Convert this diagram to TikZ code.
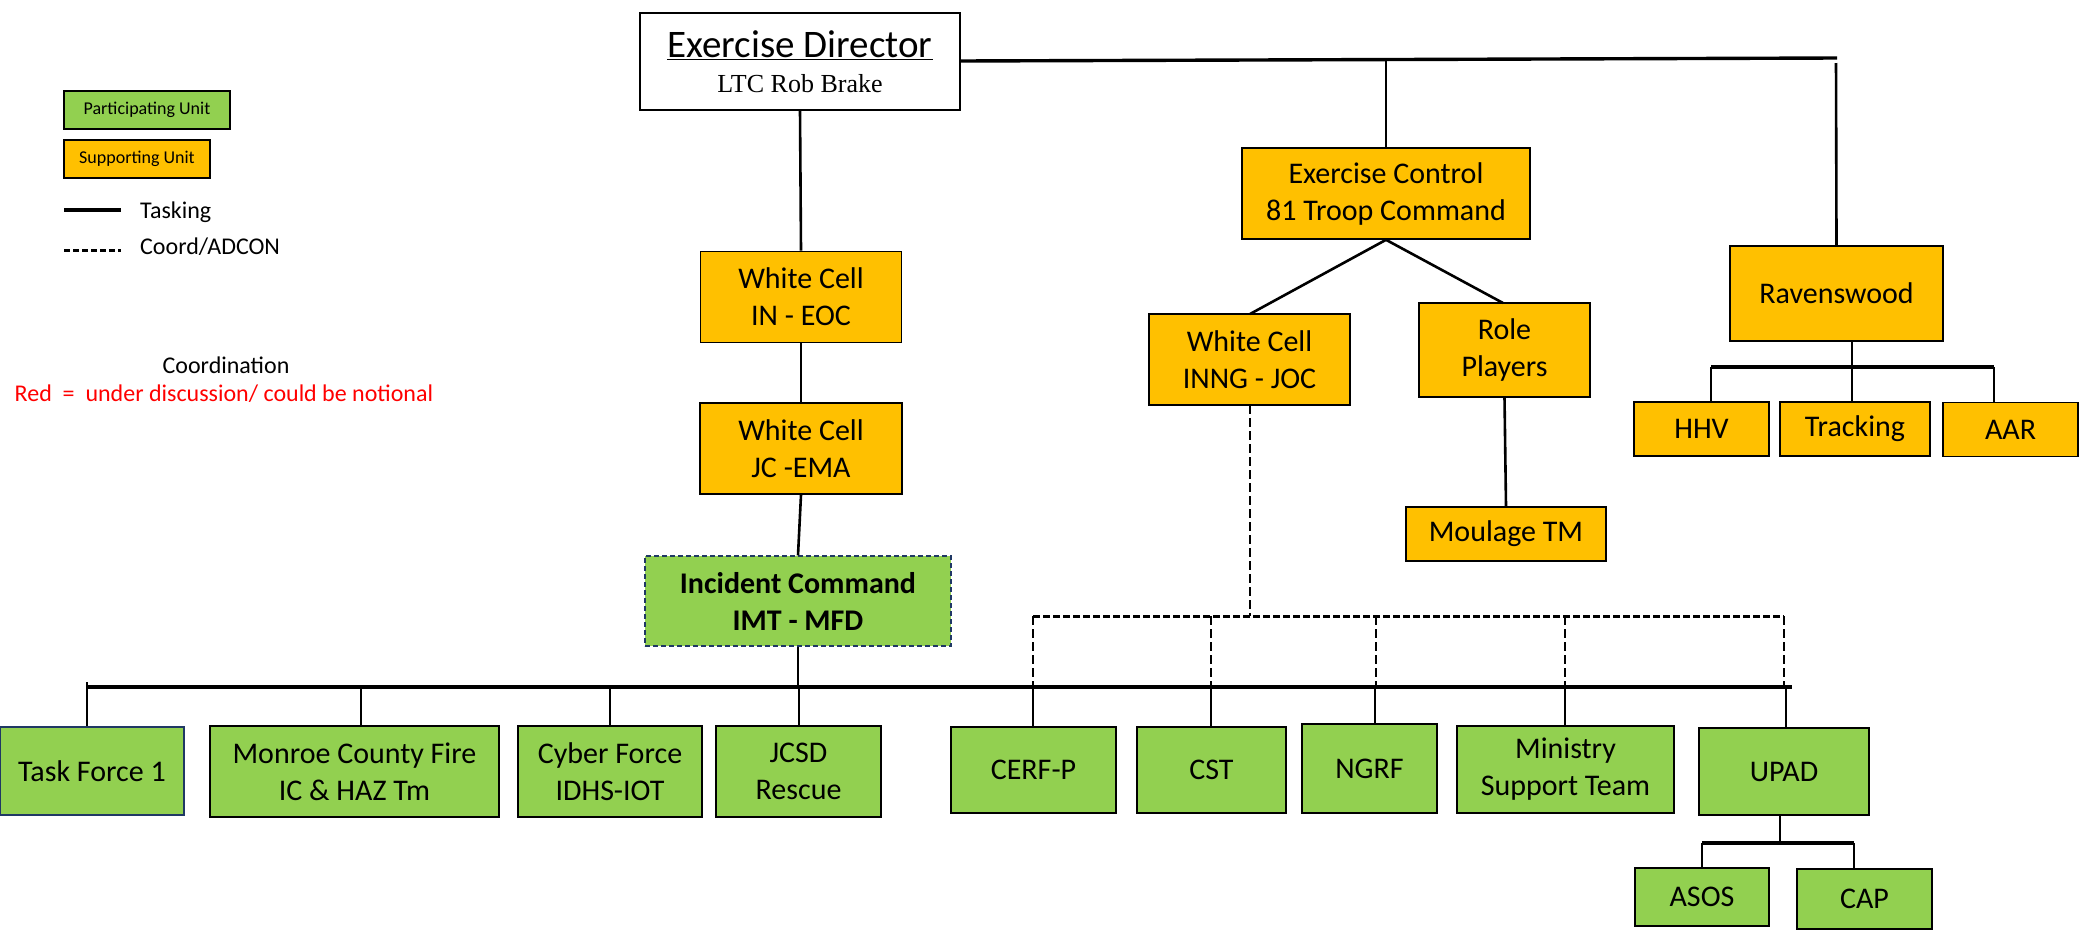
\documentclass[tikz,border=0pt]{standalone}
\usepackage{fontspec}
\setmainfont{Carlito}
\newfontfamily\tnr{Liberation Serif}
\definecolor{pgreen}{HTML}{92D050}
\definecolor{sorange}{HTML}{FFC000}
\definecolor{navyb}{HTML}{1F3864}
\definecolor{redtxt}{HTML}{FF0000}
\begin{document}
\begin{tikzpicture}[x=1pt,y=-1pt,
  box/.style={draw=black, line width=1.6pt, inner sep=0pt, align=center, font=\fontsize{30}{37}\selectfont},
  part/.style={box, fill=pgreen},
  supp/.style={box, fill=sorange},
  sz/.style 2 args={minimum width=#1pt, minimum height=#2pt},
  tl/.style={line width=2.6pt},
  bus/.style={line width=3.4pt},
  coordl/.style={line width=2.8pt, dash pattern=on 9pt off 4pt},
  plain/.style={inner sep=0pt}
]
\useasboundingbox (0,0) rectangle (2080,932);

% legend
\node[part, sz={166}{38}, font=\fontsize{18}{20}\selectfont] (lp) at (147,110) {Participating Unit};
\node[supp, sz={146}{38}, font=\fontsize{18}{20}\selectfont] (ls) at (137,159) {Supporting Unit};
\coordinate (lt1) at (64,210); \coordinate (lt2) at (121,210);
\draw[bus] (lt1) -- (lt2);
\node[plain, anchor=west, font=\fontsize{24}{28}\selectfont] (ltt) at (140,212) {Tasking};
\coordinate (lc1) at (64,250); \coordinate (lc2) at (121,250);
\draw[line width=3pt, dash pattern=on 6pt off 3pt] (lc1) -- (lc2);
\node[plain, anchor=west, font=\fontsize{24}{28}\selectfont] (lct) at (140,247) {Coord/ADCON};
\node[plain, font=\fontsize{24}{28}\selectfont] (coordn) at (226,365) {Coordination};
\node[plain, text=redtxt, font=\fontsize{24}{28}\selectfont] (redn) at (224,394) {Red\ \ =\ \ under discussion/ could be notional};

% top
\node[box, fill=white, sz={320}{97}] (ed) at (800,61.5) {{\fontsize{39}{40}\selectfont\underline{Exercise Director}}\\[-2pt]{\tnr\fontsize{26}{30}\selectfont LTC Rob Brake}};
\node[supp, sz={201}{91}] (wc1) at (801,297) {White Cell\\IN - EOC};
\node[supp, sz={202}{91}] (wc2) at (801,448.5) {White Cell\\JC -EMA};
\node[part, sz={306}{90}, draw=navyb, line width=1.3pt, dash pattern=on 5pt off 3pt, font=\bfseries\fontsize{30}{37}\selectfont] (ic) at (798,601) {Incident Command\\IMT - MFD};

\node[supp, sz={288}{91}] (ec) at (1386,193.5) {Exercise Control\\81 Troop Command};
\node[supp, sz={201}{91}] (joc) at (1249.5,359.5) {White Cell\\INNG - JOC};
\node[supp, sz={171}{94}] (rp) at (1504.5,350) {Role\\Players};
\node[supp, sz={200}{54}] (mt) at (1506,534) {Moulage TM};
\node[supp, sz={213}{95}] (rw) at (1836.5,293.5) {Ravenswood};
\node[supp, sz={135}{54}] (hhv) at (1701.5,429) {HHV};
\node[supp, sz={150}{54}] (tr) at (1855,429) {Tracking};
\node[supp, sz={135}{54}] (aar) at (2010.5,429.5) {AAR};

% bottom row
\node[part, sz={184}{88}, draw=navyb, line width=1.3pt] (tf) at (92,771) {Task Force 1};
\node[part, sz={289}{91}] (mcf) at (354.5,771.5) {Monroe County Fire\\IC \& HAZ Tm};
\node[part, sz={184}{91}] (cf) at (610,771.5) {Cyber Force\\IDHS-IOT};
\node[part, sz={165}{91}] (jcsd) at (798.5,771.5) {JCSD\\Rescue};
\node[part, sz={165}{86}] (cerf) at (1033.5,770) {CERF-P};
\node[part, sz={149}{86}] (cst) at (1211.5,770) {CST};
\node[part, sz={135}{89}] (ngrf) at (1369.5,768.5) {NGRF};
\node[part, sz={217}{87}] (mst) at (1565.5,769.5) {Ministry\\Support Team};
\node[part, sz={170}{87}] (upad) at (1784,771.5) {UPAD};
\node[part, sz={134}{58}] (asos) at (1702,897) {ASOS};
\node[part, sz={135}{60}] (cap) at (1864.5,899) {CAP};

% top connectors
\coordinate (tEnd) at (1837,58);
\coordinate (tEC) at (1386,59);
\coordinate (tRW) at (1836,63);
\draw[bus] (ed.east |- 0,61) -- (tEnd);
\draw[tl] (tEC) -- (ec.north);
\draw[tl] (tRW) -- (rw.north);
\draw[tl] (ed.south) -- (wc1.north);
\draw[tl] (wc1.south) -- (wc2.north);
\draw[tl] (wc2.south) -- (ic.north);

% exercise control
\coordinate (jocTop) at (1250,314);
\coordinate (rpTop) at (1503,303);
\draw[tl] (ec.south) -- (jocTop);
\draw[tl] (ec.south) -- (rpTop);
\draw[tl] (rp.south) -- (mt.north);

% ravenswood
\coordinate (rwOut) at (1852,341);
\coordinate (rb1) at (1711,367); \coordinate (rb2) at (1994,367);
\draw[bus] (rb1) -- (rb2);
\draw[tl] (rwOut) -- (rwOut |- tr.north);
\draw[tl] (rb1) -- (rb1 |- hhv.north);
\draw[tl] (rb2) -- (rb2 |- aar.north);

% main bus
\coordinate (bL) at (87,687); \coordinate (bR) at (1792,687);
\draw[bus] (bL) -- (bR);
\draw[tl] (ic.south) -- (ic.south |- bL);
\coordinate (bTF) at (87,682);
\draw[tl] (bTF) -- (bTF |- tf.north);
\coordinate (bMCF) at (361,687);
\coordinate (bCF) at (610,687);
\coordinate (bJC) at (799,687);
\coordinate (bCE) at (1033,687);
\coordinate (bCS) at (1211,687);
\coordinate (bNG) at (1375,687);
\coordinate (bMS) at (1565,687);
\coordinate (bUP) at (1786,687);
\draw[tl] (bMCF) -- (bMCF |- mcf.north);
\draw[tl] (bCF) -- (bCF |- cf.north);
\draw[tl] (bJC) -- (bJC |- jcsd.north);
\draw[tl] (bCE) -- (bCE |- cerf.north);
\draw[tl] (bCS) -- (bCS |- cst.north);
\draw[tl] (bNG) -- (bNG |- ngrf.north);
\draw[tl] (bMS) -- (bMS |- mst.north);
\draw[tl] (bUP) -- (bUP |- upad.north);

% coordination (dashed)
\coordinate (jocOut) at (1250,405);
\coordinate (dJ) at (1250,616);
\coordinate (dL) at (1033,616); \coordinate (dR) at (1784,616);
\draw[coordl] (jocOut) -- (dJ);
\draw[line width=3pt, dash pattern=on 7pt off 3pt] (dL) -- (dR);
\coordinate (dCS) at (1211,616);
\coordinate (dNG) at (1376,616);
\coordinate (dMS) at (1565,616);
\draw[coordl] (dL) -- (dL |- bL);
\draw[coordl] (dCS) -- (dCS |- bL);
\draw[coordl] (dNG) -- (dNG |- bL);
\draw[coordl] (dMS) -- (dMS |- bL);
\draw[coordl] (dR) -- (dR |- bL);

% UPAD
\coordinate (uOut) at (1780,815);
\coordinate (ub1) at (1702,843); \coordinate (ub2) at (1854,843);
\draw[tl] (uOut) -- (uOut |- ub1);
\draw[bus] (ub1) -- (ub2);
\draw[tl] (ub1) -- (ub1 |- asos.north);
\draw[tl] (ub2) -- (ub2 |- cap.north);
\end{tikzpicture}
\end{document}
